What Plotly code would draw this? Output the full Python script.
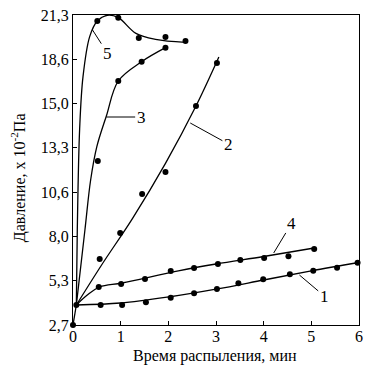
import plotly.graph_objects as go

# ---- data ----
x_ticks = [0, 1, 2, 3, 4, 5, 6]
y_tick_text = ["2,7", "5,3", "8,0", "10,6", "13,3", "15,0", "18,6", "21,3"]
y_min, y_max = 2.7, 21.3

start_t = [0.0, 0.07]
start_p = [2.7, 3.9]

t1 = [0.58, 1.03, 1.53, 2.05, 2.54, 3.02, 3.47, 3.99, 4.55, 5.04, 5.54, 5.97]
p1 = [3.9, 3.9, 4.06, 4.34, 4.6, 4.86, 5.2, 5.44, 5.74, 5.96, 6.14, 6.44]
fit1_t = [0.07, 1.0, 2.0, 3.0, 4.0, 5.0, 6.0]
fit1_p = [3.9, 4.02, 4.38, 4.85, 5.4, 5.95, 6.45]

t2 = [0.56, 0.99, 1.45, 1.94, 2.58, 3.02]
p2 = [6.66, 8.22, 10.56, 11.88, 15.84, 18.42]
fit2_t = [0.07, 0.6, 1.25, 1.94, 2.58, 3.06]
fit2_p = [3.9, 6.3, 9.1, 12.4, 15.84, 18.78]

t3 = [0.52, 0.95, 1.44, 1.94]
p3 = [12.54, 17.34, 18.5, 19.34]
fit3_t = [0.07, 0.25, 0.37, 0.5, 0.7, 0.95, 1.44, 1.94]
fit3_p = [3.9, 8.4, 11.4, 13.4, 15.24, 17.34, 18.5, 19.34]

t4 = [0.54, 1.01, 1.51, 2.05, 2.54, 3.04, 3.51, 4.01, 4.52, 5.06]
p4 = [4.98, 5.16, 5.46, 5.94, 6.12, 6.36, 6.6, 6.72, 6.82, 7.26]
fit4_t = [0.07, 0.3, 0.56, 1.03, 2.21, 3.0, 4.0, 5.06]
fit4_p = [3.9, 4.5, 4.98, 5.22, 5.95, 6.36, 6.81, 7.32]

t5 = [0.51, 0.95, 1.38, 1.94, 2.36]
p5 = [20.94, 21.14, 19.92, 19.98, 19.74]
fit5_t = [0.07, 0.09, 0.14, 0.21, 0.35, 0.51, 0.72, 0.95, 1.32, 1.73, 2.36]
fit5_p = [3.9, 8.4, 14.5, 17.6, 20.0, 20.94, 21.28, 21.14, 20.2, 19.84, 19.66]

# curve labels: (name, label t, label p, leader-end t, leader-end p)
labels = ["1", "2", "3", "4", "5"]
label_t = [5.27, 3.26, 1.43, 4.59, 0.72]
label_p = [4.44, 13.56, 15.18, 8.82, 19.02]
lead_t = [4.75, 2.46, 0.70, 4.21, 0.41]
lead_p = [5.7, 14.82, 15.18, 7.02, 20.4]

FONT = "Liberation Serif"

fig = go.Figure()

line_style = dict(color="black", width=1.3)
fig.add_trace(go.Scatter(x=start_t, y=start_p, mode="lines", line=line_style,
                         showlegend=False, hoverinfo="skip"))
for ft, fp in [(fit1_t, fit1_p), (fit2_t, fit2_p), (fit3_t, fit3_p),
               (fit4_t, fit4_p), (fit5_t, fit5_p)]:
    fig.add_trace(go.Scatter(x=ft, y=fp, mode="lines",
                             line=dict(color="black", width=1.3, shape="spline", smoothing=1.0),
                             showlegend=False, hoverinfo="skip", cliponaxis=False))

marker = dict(color="black", size=6)
for tt, pp in [(start_t, start_p), (t1, p1), (t2, p2), (t3, p3), (t4, p4), (t5, p5)]:
    fig.add_trace(go.Scatter(x=tt, y=pp, mode="markers", marker=marker,
                             showlegend=False, cliponaxis=False))

annotations = []
for name, lt, lp, et, ep in zip(labels, label_t, label_p, lead_t, lead_p):
    annotations.append(dict(x=et, y=ep, ax=lt, ay=lp, axref="x", ayref="y",
                            xref="x", yref="y", text=name, showarrow=True,
                            arrowhead=0, arrowwidth=1, arrowcolor="black",
                            font=dict(family=FONT, size=17, color="black")))

annotations.append(dict(x=0.495, y=-0.1, xref="paper", yref="paper",
                        text="Время распыления, мин", showarrow=False,
                        xanchor="center", yanchor="middle",
                        font=dict(family=FONT, size=16, color="black")))
annotations.append(dict(x=-0.192, y=0.474, xref="paper", yref="paper",
                        text="Давление, x 10<sup>-2</sup>Па", showarrow=False,
                        textangle=-90, xanchor="center", yanchor="middle",
                        font=dict(family=FONT, size=16, color="black")))

step = (y_max - y_min) / (len(y_tick_text) - 1)
y_tick_vals = [y_min + i * step for i in range(len(y_tick_text))]

fig.update_layout(
    width=365, height=365,
    margin=dict(l=73, r=2, t=15, b=40),
    paper_bgcolor="white", plot_bgcolor="white",
    annotations=annotations,
    font=dict(family=FONT, size=16, color="black"),
    xaxis=dict(range=[0, 6], tickvals=x_ticks, ticktext=[str(v) for v in x_ticks],
               showgrid=False, zeroline=False, showline=True, linecolor="black",
               linewidth=1.3, mirror=True, ticks="inside", ticklen=4,
               tickcolor="black", tickfont=dict(family=FONT, size=16),
               ticklabeloverflow="allow", ticklabelstandoff=-3),
    yaxis=dict(range=[y_min, y_max], tickvals=y_tick_vals, ticktext=y_tick_text,
               showgrid=False, zeroline=False, showline=True, linecolor="black",
               linewidth=1.3, mirror=True, ticks="inside", ticklen=4,
               tickcolor="black", tickfont=dict(family=FONT, size=16)),
)

fig.write_html("out.html", config={"displayModeBar": False},
               post_script="document.body.style.margin='0';document.body.style.padding='0';")
